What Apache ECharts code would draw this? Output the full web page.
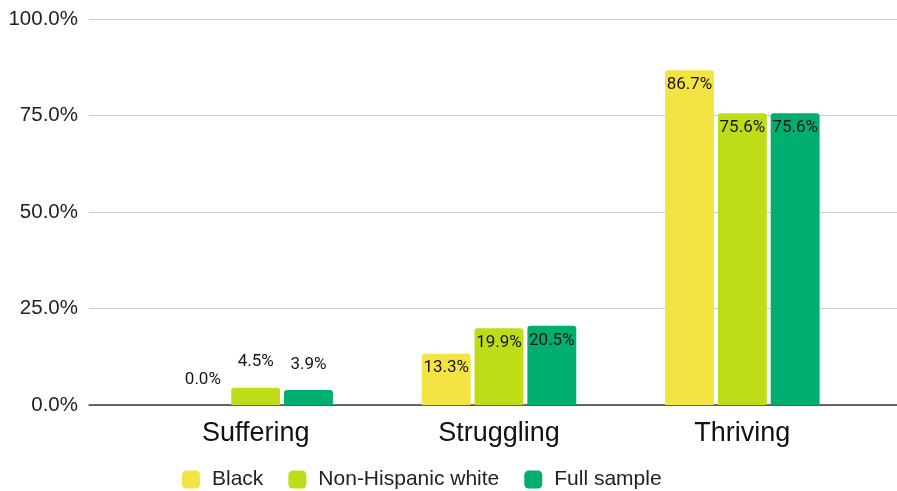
<!DOCTYPE html>
<html>
<head>
<meta charset="utf-8">
<script src="https://cdn.jsdelivr.net/npm/echarts@6/dist/echarts.min.js"></script>
<style>
  html, body { margin: 0; padding: 0; background: #fff; }
  #chart { width: 897px; height: 491px; }
</style>
</head>
<body>
<div id="chart"></div>
<script>
// Well-being groups and share of respondents (%) in each
const categories = ['Suffering', 'Struggling', 'Thriving'];
const seriesNames = ['Black', 'Non-Hispanic white', 'Full sample'];
const blackValues = [0.0, 13.3, 86.7];
const whiteValues = [4.5, 19.9, 75.6];
const fullValues = [3.9, 20.5, 75.6];
const yTicks = [0, 25, 50, 75, 100];

const colors = ['#F3E443', '#BEDC18', '#00AE6F'];

const chart = echarts.init(document.getElementById('chart'));

// Short bars get their value above the bar, taller ones inside the top
function toData(values) {
  return values.map(v => ({
    value: v,
    label: v < 10
      ? { position: 'top', distance: 17 }
      : { position: 'insideTop', distance: 6 }
  }));
}

const labelStyle = {
  show: true,
  formatter: p => p.value.toFixed(1) + '%',
  fontFamily: 'Roboto',
  fontSize: 17,
  color: '#161616'
};

const valueSeries = [blackValues, whiteValues, fullValues].map((vals, i) => ({
  name: seriesNames[i],
  type: 'bar',
  xAxisIndex: 1,
  yAxisIndex: 1,
  data: toData(vals),
  barWidth: '20.1%',
  barGap: '8%',
  itemStyle: { color: colors[i], borderRadius: [3, 3, 0, 0] },
  label: labelStyle
}));

chart.setOption({
  animation: false,
  color: colors,
  grid: [
    { left: 89, right: 0, top: 19, bottom: 86 },   // gridlines and value labels
    { left: 134, right: 33, top: 19, bottom: 86 }  // bars
  ],
  legend: {
    data: seriesNames,
    left: 177,
    top: 464,
    icon: 'roundRect',
    itemWidth: 18,
    itemHeight: 18,
    itemGap: 25,
    textStyle: {
      fontFamily: 'Liberation Sans, Arial, sans-serif',
      fontSize: 21,
      color: '#222',
      padding: [0, 0, 0, 7]
    }
  },
  xAxis: [
    {
      type: 'category',
      gridIndex: 0,
      data: [''],
      axisLine: { show: true, lineStyle: { color: '#3a3a3a', width: 1.5 } },
      axisTick: { show: false },
      axisLabel: { show: false }
    },
    {
      type: 'category',
      gridIndex: 1,
      data: categories,
      axisLine: { show: false },
      axisTick: { show: false },
      axisLabel: {
        margin: 15,
        fontFamily: 'Liberation Sans, Arial, sans-serif',
        fontSize: 27,
        color: '#111'
      }
    }
  ],
  yAxis: [
    {
      type: 'value',
      gridIndex: 0,
      min: yTicks[0],
      max: yTicks[yTicks.length - 1],
      interval: yTicks[1] - yTicks[0],
      axisLine: { show: false },
      axisTick: { show: false },
      splitLine: { lineStyle: { color: '#cccccc', width: 1 } },
      axisLabel: {
        margin: 11,
        formatter: v => v.toFixed(1) + '%',
        fontFamily: 'Liberation Sans, Arial, sans-serif',
        fontSize: 20.5,
        color: '#222'
      }
    },
    {
      type: 'value',
      gridIndex: 1,
      min: yTicks[0],
      max: yTicks[yTicks.length - 1],
      interval: yTicks[1] - yTicks[0],
      show: false,
      splitLine: { show: false }
    }
  ],
  series: valueSeries
});
</script>
</body>
</html>
